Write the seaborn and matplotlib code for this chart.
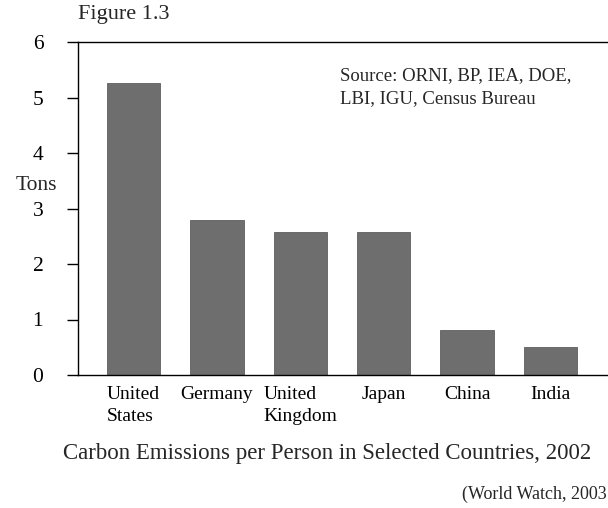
import matplotlib
matplotlib.use("Agg")
import matplotlib.pyplot as plt
import pandas as pd
import seaborn as sns

countries = ["United\nStates", "Germany", "United\nKingdom", "Japan", "China", "India"]
tons = [5.27, 2.8, 2.57, 2.57, 0.81, 0.5]
y_ticks = [0, 1, 2, 3, 4, 5, 6]

df = pd.DataFrame({"country": countries, "tons": tons})

sns.set_theme(style="white")
plt.rcParams["font.family"] = ["Liberation Serif", "DejaVu Serif"]

fig = plt.figure(figsize=(6.08, 5.08), dpi=100)
ax = fig.add_axes([78 / 608, 1 - 375 / 508, 1 - 78 / 608, (375 - 42) / 508])

sns.barplot(data=df, x="country", y="tons", color="#6e6e6e", saturation=1,
            width=0.64, edgecolor="#5e5e5e", linewidth=0.6, ax=ax)

ax.set_xlim(-0.665, 5.69)
ax.set_ylim(0, 6)
ax.set_yticks(y_ticks)
ax.set_yticklabels([str(t) for t in y_ticks], fontsize=15.5, color="black")
ax.tick_params(axis="y", length=8, width=1.0, color="black", pad=17, left=True)
ax.tick_params(axis="x", length=0, pad=8, labelsize=14, labelcolor="black")
for lab in ax.get_xticklabels():
    lab.set_multialignment("left")
    lab.set_linespacing(1.35)
ax.set_xlabel("")
ax.set_ylabel("")

for side in ["left", "bottom", "top"]:
    ax.spines[side].set_color("black")
    ax.spines[side].set_linewidth(1.0)
ax.spines["right"].set_visible(False)

fig.text(57 / 608, 1 - 185 / 508, "Tons", ha="right", va="center", fontsize=15.5)
fig.text(78 / 608, 1 - 15 / 508, "Figure 1.3", ha="left", va="center", fontsize=16)
fig.text(340 / 608, 1 - 67 / 508, "Source: ORNI, BP, IEA, DOE,\nLBI, IGU, Census Bureau",
         ha="left", va="top", fontsize=13.5, linespacing=1.45)
fig.text(327 / 608, 1 - 454 / 508,
         "Carbon Emissions per Person in Selected Countries, 2002",
         ha="center", va="center", fontsize=16.5)
fig.text(462 / 608, 1 - 494 / 508, "(World Watch, 2003", ha="left", va="center",
         fontsize=13)

fig.savefig("out.png", dpi=100)
